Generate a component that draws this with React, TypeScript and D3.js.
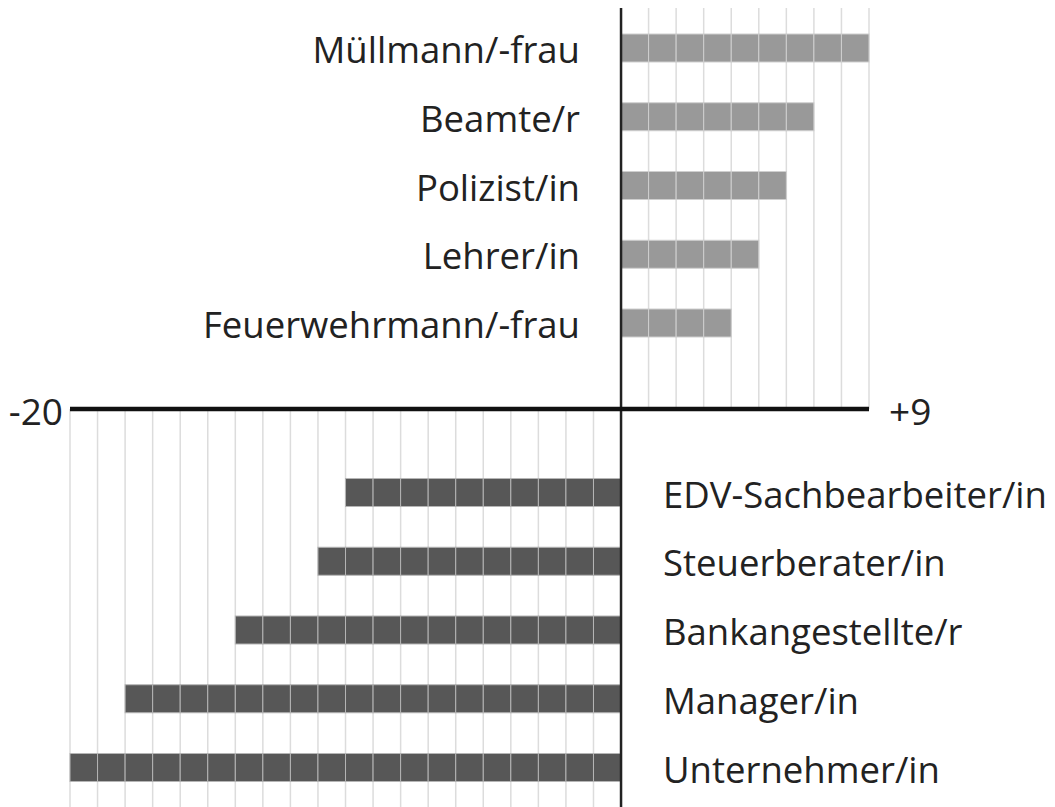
import { useEffect, useRef } from 'react';
import * as d3 from 'd3';

const topCategories = ['Müllmann/-frau', 'Beamte/r', 'Polizist/in', 'Lehrer/in', 'Feuerwehrmann/-frau'];
const topValues = [9, 7, 6, 5, 4];
const bottomCategories = ['EDV-Sachbearbeiter/in', 'Steuerberater/in', 'Bankangestellte/r', 'Manager/in', 'Unternehmer/in'];
const bottomValues = [-10, -11, -14, -18, -20];
const tickLabels = ['-20', '+9'];
const domainValues = [-20, 9];

const width = 1055;
const height = 807;

export default function App() {
  const svgRef = useRef<SVGSVGElement>(null);

  useEffect(() => {
    if (!svgRef.current) return;
    const svg = d3.select(svgRef.current);
    svg.selectAll('*').remove();

    const font = '"Open Sans", sans-serif';
    const x = d3.scaleLinear().domain(domainValues).range([70, 869]);
    const axisY = 409;
    const yTop = d3.scalePoint<string>().domain(topCategories).range([48, 323]);
    const yBottom = d3.scalePoint<string>().domain(bottomCategories).range([492.5, 767.5]);
    const barH = 28;

    // grid, upper part (positive side)
    const posTicks = d3.range(1, domainValues[1] + 1);
    svg.append('g').selectAll('line').data(posTicks).join('line')
      .attr('x1', d => x(d)).attr('x2', d => x(d))
      .attr('y1', 8).attr('y2', axisY)
      .attr('stroke', '#dcdcdc').attr('stroke-width', 1.5);

    // grid, lower part (negative side)
    const negTicks = d3.range(domainValues[0], 0);
    svg.append('g').selectAll('line').data(negTicks).join('line')
      .attr('x1', d => x(d)).attr('x2', d => x(d))
      .attr('y1', axisY).attr('y2', height)
      .attr('stroke', '#dcdcdc').attr('stroke-width', 1.5);

    // positive bars, one cell per unit
    topCategories.forEach((c, i) => {
      const cells = d3.range(0, topValues[i]);
      svg.append('g').selectAll('rect').data(cells).join('rect')
        .attr('x', d => x(d)).attr('width', x(1) - x(0))
        .attr('y', yTop(c)! - barH / 2).attr('height', barH)
        .attr('fill', '#999999')
        .attr('stroke', '#cfcfcf').attr('stroke-width', 1);
    });

    // negative bars
    bottomCategories.forEach((c, i) => {
      const cells = d3.range(bottomValues[i], 0);
      svg.append('g').selectAll('rect').data(cells).join('rect')
        .attr('x', d => x(d)).attr('width', x(1) - x(0))
        .attr('y', yBottom(c)! - barH / 2).attr('height', barH)
        .attr('fill', '#575757')
        .attr('stroke', '#b5b5b5').attr('stroke-width', 1);
    });

    // axes
    svg.append('line')
      .attr('x1', x(0)).attr('x2', x(0)).attr('y1', 8).attr('y2', height)
      .attr('stroke', '#222').attr('stroke-width', 2.5);
    svg.append('line')
      .attr('x1', x(domainValues[0])).attr('x2', x(domainValues[1]))
      .attr('y1', axisY).attr('y2', axisY)
      .attr('stroke', '#111').attr('stroke-width', 4.5);

    // end labels
    svg.append('text')
      .attr('x', x(domainValues[0]) - 7).attr('y', axisY + 1)
      .attr('text-anchor', 'end').attr('dominant-baseline', 'central')
      .attr('font-family', font).attr('font-size', 37).attr('fill', '#222')
      .text(tickLabels[0]);
    svg.append('text')
      .attr('x', x(domainValues[1]) + 20).attr('y', axisY + 1)
      .attr('text-anchor', 'start').attr('dominant-baseline', 'central')
      .attr('font-family', font).attr('font-size', 37).attr('fill', '#222')
      .text(tickLabels[1]);

    // category labels
    svg.append('g').selectAll('text').data(topCategories).join('text')
      .attr('x', 580).attr('y', d => yTop(d)! + 1)
      .attr('text-anchor', 'end').attr('dominant-baseline', 'central')
      .attr('font-family', font).attr('font-size', 36.5).attr('fill', '#222')
      .text(d => d);
    svg.append('g').selectAll('text').data(bottomCategories).join('text')
      .attr('x', 663).attr('y', d => yBottom(d)! + 1)
      .attr('text-anchor', 'start').attr('dominant-baseline', 'central')
      .attr('font-family', font).attr('font-size', 36.5).attr('fill', '#222')
      .text(d => d);
  }, []);

  return (
    <svg
      ref={svgRef}
      width={width}
      height={height}
      style={{ position: 'absolute', left: 0, top: 0, background: '#fff' }}
    />
  );
}
